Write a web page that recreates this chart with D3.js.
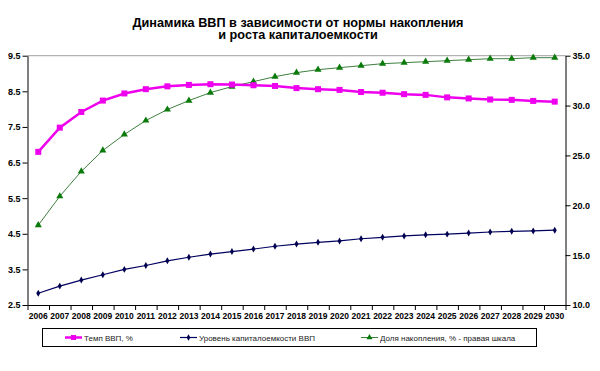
<!DOCTYPE html>
<html><head><meta charset="utf-8">
<script src="https://cdn.jsdelivr.net/npm/d3@7"></script>
<style>body{margin:0;background:#fff}svg{display:block}</style>
</head><body>
<svg id="c" width="600" height="371"></svg>
<script>
const years = d3.range(2006, 2031).map(String);
const gdpGrowth = [6.80,7.48,7.92,8.24,8.44,8.56,8.64,8.68,8.70,8.69,8.67,8.65,8.59,8.56,8.54,8.48,8.46,8.42,8.40,8.33,8.30,8.27,8.26,8.23,8.21];
const capitalIntensity = [2.83,3.03,3.20,3.35,3.50,3.61,3.74,3.84,3.93,4.00,4.07,4.15,4.21,4.26,4.30,4.36,4.40,4.44,4.47,4.49,4.52,4.55,4.57,4.58,4.60];
const savingsShare = [18.0,20.9,23.4,25.5,27.1,28.5,29.6,30.5,31.3,31.9,32.4,32.9,33.3,33.6,33.8,34.0,34.2,34.3,34.4,34.5,34.6,34.7,34.7,34.8,34.8];
const leftTicks = [2.5,3.5,4.5,5.5,6.5,7.5,8.5,9.5];
const rightTicks = [10,15,20,25,30,35];
const titleLines = ["Динамика ВВП в зависимости от нормы накопления","и роста капиталоемкости"];
const seriesNames = ["Темп ВВП, %","Уровень капиталоемкости ВВП","Доля накопления, % - правая шкала"];

const svg = d3.select("#c");
const L = 27.5, R = 565.5, T = 55.7, B = 305;
const x = d3.scaleBand().domain(years).range([L, R]).paddingInner(0).paddingOuter(0);
const xb = d3.scaleLinear().domain([0, years.length]).range([L, R]);
const yL = d3.scaleLinear().domain([2.5, 9.5]).range([B, T]);
const yR = d3.scaleLinear().domain([10, 35]).range([B, T]);
const cx = d => x(d) + x.bandwidth()/2;

// title
svg.append("g").selectAll("text").data(titleLines).join("text")
  .attr("x", 298).attr("y", (d,i)=> 26.5 + i*12.5)
  .attr("text-anchor","middle")
  .style("font-family","'Liberation Sans', Arial, sans-serif")
  .style("font-weight","bold").style("font-size","12.7px").text(d=>d);

// top border
svg.append("line").attr("x1",L).attr("x2",R).attr("y1",T).attr("y2",T).attr("stroke","#a0a0a0").attr("stroke-width",1);

const axisFont = g => g.selectAll("text").style("font-family","'Liberation Sans', Arial, sans-serif").style("font-weight","bold").style("fill","#000");

svg.append("g").attr("transform",`translate(${L},0)`)
  .call(d3.axisLeft(yL).tickValues(leftTicks).tickFormat(d3.format(".1f")).tickSize(5).tickSizeOuter(0).tickPadding(2))
  .call(axisFont).call(g=>g.selectAll("text").style("font-size","9px"));

svg.append("g").attr("transform",`translate(${R},0)`)
  .call(d3.axisRight(yR).tickValues(rightTicks).tickFormat(d3.format(".1f")).tickSize(5).tickSizeOuter(0).tickPadding(2))
  .call(axisFont).call(g=>g.selectAll("text").style("font-size","9px"));

svg.append("g").attr("transform",`translate(0,${B})`)
  .call(d3.axisBottom(xb).tickValues(d3.range(0, years.length+1)).tickFormat("").tickSize(5).tickSizeOuter(0));
svg.append("g").attr("transform",`translate(0,${B})`)
  .call(d3.axisBottom(x).tickSize(0).tickPadding(8))
  .call(axisFont).call(g=>{g.selectAll("text").style("font-size","8.5px"); g.select(".domain").remove();});

// series
const lineL = d3.line().x((d,i)=>cx(years[i])).y(d=>yL(d));
const lineR = d3.line().x((d,i)=>cx(years[i])).y(d=>yR(d));

svg.append("path").datum(savingsShare).attr("d", lineR).attr("fill","none").attr("stroke","#3f7f3f").attr("stroke-width",1);
svg.append("g").selectAll("path").data(savingsShare).join("path")
  .attr("d", d3.symbol(d3.symbolTriangle, 22)())
  .attr("transform",(d,i)=>`translate(${cx(years[i])},${yR(d)})`).attr("fill","#0a7a0a");

svg.append("path").datum(capitalIntensity).attr("d", lineL).attr("fill","none").attr("stroke","#000060").attr("stroke-width",1.2);
svg.append("g").selectAll("path").data(capitalIntensity).join("path")
  .attr("d", d3.symbol(d3.symbolDiamond, 14)())
  .attr("transform",(d,i)=>`translate(${cx(years[i])},${yL(d)})`).attr("fill","#000050");

svg.append("path").datum(gdpGrowth).attr("d", lineL).attr("fill","none").attr("stroke","#ee00ee").attr("stroke-width",2.5);
svg.append("g").selectAll("rect").data(gdpGrowth).join("rect")
  .attr("x",(d,i)=>cx(years[i])-3).attr("y",d=>yL(d)-3).attr("width",6).attr("height",6).attr("fill","#ee00ee");

// legend
const lg = svg.append("g");
lg.append("rect").attr("x",42.5).attr("y",328.5).attr("width",494).attr("height",18).attr("fill","#fff").attr("stroke","#000").attr("stroke-width",1);
const items = [
  {name: seriesNames[0], x0:65, color:"#ee00ee", w:2.5, sym:"sq"},
  {name: seriesNames[1], x0:180, color:"#000060", w:1.2, sym:"dia"},
  {name: seriesNames[2], x0:361, color:"#3f7f3f", w:1, sym:"tri"}
];
const ly = 337.5;
items.forEach(it=>{
  const g = lg.append("g");
  g.append("line").attr("x1",it.x0).attr("x2",it.x0+17).attr("y1",ly).attr("y2",ly).attr("stroke",it.color).attr("stroke-width",it.w);
  const mx = it.x0+8.5;
  if (it.sym==="sq") g.append("rect").attr("x",mx-2.5).attr("y",ly-2.5).attr("width",5).attr("height",5).attr("fill",it.color);
  if (it.sym==="dia") g.append("path").attr("d",d3.symbol(d3.symbolDiamond,12)()).attr("transform",`translate(${mx},${ly})`).attr("fill","#000050");
  if (it.sym==="tri") g.append("path").attr("d",d3.symbol(d3.symbolTriangle,16)()).attr("transform",`translate(${mx},${ly})`).attr("fill","#0a7a0a");
  g.append("text").attr("x",it.x0+19).attr("y",ly+3).text(it.name)
    .style("font-family","'Liberation Sans', Arial, sans-serif").style("font-size","8px").style("fill","#222");
});
</script>
</body></html>
